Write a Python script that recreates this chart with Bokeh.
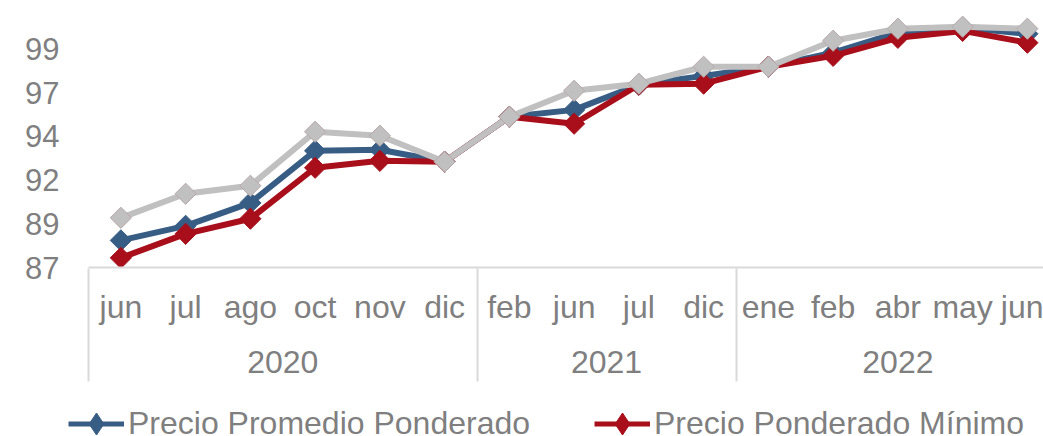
import math
from bokeh.plotting import figure
from bokeh.layouts import column
from bokeh.models import (Range1d, LinearAxis, FixedTicker, NumeralTickFormatter,
                          Legend, LegendItem)
from bokeh.embed import file_html
from bokeh.resources import INLINE

# ---------------- data ----------------
months = ["jun", "jul", "ago", "oct", "nov", "dic",
          "feb", "jun", "jul", "dic",
          "ene", "feb", "abr", "may", "jun"]
years = ["2020", "2021", "2022"]
months_per_year = [6, 4, 5]

promedio = [88.49, 89.29, 90.55, 93.41, 93.47, 92.81,
            95.28, 95.66, 97.04, 97.53,
            98.03, 98.80, 99.90, 100.18, 99.84]
minimo = [87.53, 88.85, 89.68, 92.48, 92.86, 92.81,
          95.28, 94.90, 97.04, 97.10,
          98.03, 98.63, 99.62, 100.00, 99.35]
maximo = [89.73, 91.05, 91.49, 94.46, 94.24, 92.81,
          95.28, 96.71, 97.10, 98.03,
          98.03, 99.46, 100.12, 100.23, 100.12]

y_ticks = [87.0, 89.4, 91.8, 94.2, 96.6, 99.0]

series_names = ["Precio Promedio Ponderado", "Precio Ponderado Mínimo"]

# ---------------- styling ----------------
BLUE = "#385d85"
RED = "#a80f1b"
GRAY = "#c0c0c0"
TEXT = "#7f7f7f"
AXIS = "#d9d9d9"
FONT = "Liberation Sans"
FS = "32px"

x = list(range(len(months)))

p = figure(width=1043, height=392,
           x_range=Range1d(-0.5, 14.249), y_range=Range1d(87.0, 101.67),
           output_backend="svg", toolbar_location=None,
           x_axis_type=None, y_axis_type=None,
           min_border_left=88, min_border_right=0,
           min_border_top=0, min_border_bottom=125)
p.frame_align = False
p.outline_line_color = None
p.background_fill_color = "white"
p.border_fill_color = "white"

# y axis
yax = LinearAxis(ticker=FixedTicker(ticks=y_ticks),
                 formatter=NumeralTickFormatter(format="0"))
yax.axis_line_color = None
yax.major_tick_line_color = None
yax.minor_tick_line_color = None
yax.major_tick_out = 0
yax.minor_tick_out = 0
yax.major_label_standoff = 29
yax.major_label_text_font = FONT
yax.major_label_text_font_size = "31px"
yax.major_label_text_color = TEXT
p.add_layout(yax, "left")

# month axis
xa = LinearAxis(ticker=FixedTicker(ticks=x),
                major_label_overrides={i: m for i, m in enumerate(months)})
xa.axis_line_color = AXIS
xa.axis_line_width = 2
xa.major_tick_line_color = None
xa.minor_tick_line_color = None
xa.major_tick_out = 0
xa.major_tick_in = 0
xa.minor_tick_out = 0
xa.major_label_standoff = 21
xa.major_label_text_font = FONT
xa.major_label_text_font_size = FS
xa.major_label_text_color = TEXT
p.add_layout(xa, "below")

# year axis
centers = []
bounds = [-0.5]
start = 0
for n in months_per_year:
    centers.append(start + (n - 1) / 2)
    start += n
    bounds.append(start - 0.5)
xb = LinearAxis(ticker=FixedTicker(ticks=centers),
                major_label_overrides={c: y for c, y in zip(centers, years)})
xb.axis_line_color = None
xb.major_tick_line_color = None
xb.minor_tick_line_color = None
xb.major_tick_out = 0
xb.major_tick_in = 0
xb.minor_tick_out = 0
xb.major_label_standoff = 23
xb.major_label_text_font = FONT
xb.major_label_text_font_size = FS
xb.major_label_text_color = TEXT
p.add_layout(xb, "below")

# group separators (tick marks spanning both label rows)
xc = LinearAxis(ticker=FixedTicker(ticks=bounds[:-1]),
                major_label_overrides={b: "" for b in bounds[:-1]})
xc.axis_line_color = None
xc.major_tick_line_color = AXIS
xc.major_tick_line_width = 2
xc.major_tick_in = 107
xc.major_tick_out = 6
xc.minor_tick_out = 0
xc.minor_tick_line_color = None
xc.major_label_standoff = 0
p.add_layout(xc, "below")

# series
styles = [(promedio, BLUE, BLUE), (minimo, RED, RED), (maximo, GRAY, "#b8a8aa")]
for vals, col, edge in styles:
    p.line(x, vals, line_color=col, line_width=6, line_join="round")
    p.scatter(x, vals, marker="square", size=15, angle=math.pi / 4,
              fill_color=col, line_color=edge, line_width=1)

# legend strip (separate small figure; its renderers fall outside its view)
lg = figure(width=1043, height=44, x_range=Range1d(-0.5, 14.249), y_range=Range1d(0, 1),
            output_backend="svg", toolbar_location=None,
            x_axis_type=None, y_axis_type=None,
            min_border_left=0, min_border_right=0,
            min_border_top=0, min_border_bottom=0)
lg.frame_align = False
lg.outline_line_color = None
items = []
for name, (vals, col, edge) in zip(series_names, styles[:2]):
    rl = lg.line(x, vals, line_color=col, line_width=5, line_join="round")
    rs = lg.scatter(x, vals, marker="diamond", fill_color=col, line_color=edge,
                    line_width=1)
    items.append(LegendItem(label=name, renderers=[rl, rs]))

legend = Legend(items=items, orientation="horizontal", location=(68, -14.5))
legend.border_line_color = None
legend.background_fill_alpha = 0
legend.padding = 0
legend.margin = 0
legend.spacing = 64
legend.glyph_width = 56
legend.glyph_height = 55
legend.label_standoff = 4
legend.label_text_font = FONT
legend.label_text_font_size = FS
legend.label_text_color = TEXT
lg.add_layout(legend, "center")

layout = column(p, lg, spacing=0)
open("out.html", "w").write(file_html(layout, INLINE))
